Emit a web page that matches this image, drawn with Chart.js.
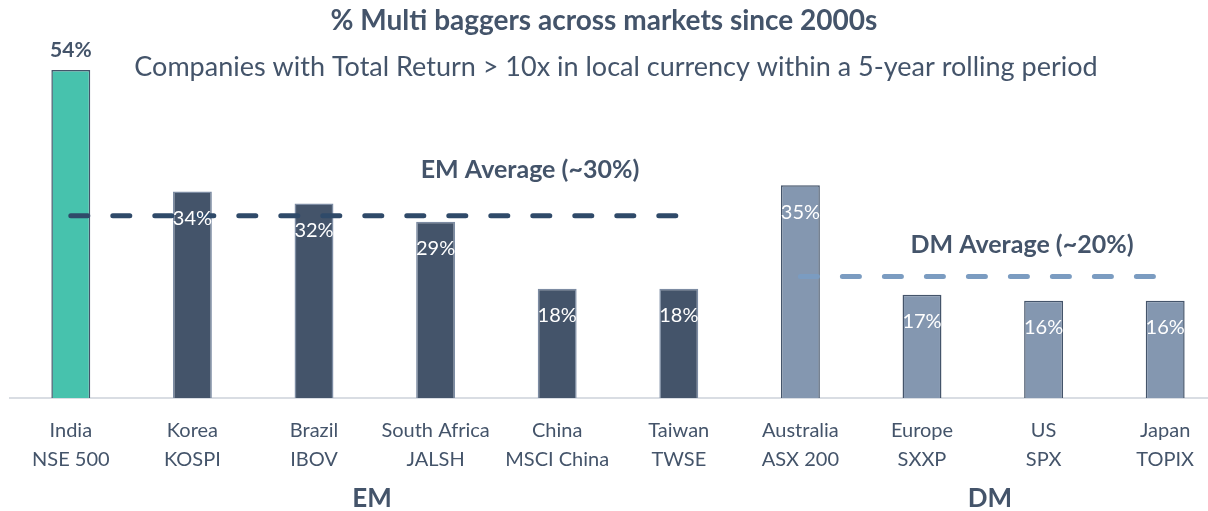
<!DOCTYPE html>
<html>
<head>
<meta charset="utf-8">
<script src="https://cdn.jsdelivr.net/npm/chart.js@4.4.1/dist/chart.umd.min.js"></script>
<style>
    html, body { margin: 0; padding: 0; background: #fff; overflow: hidden; }
    #wrap { width: 1226px; height: 511px; }
</style>
</head>
<body>
<div id="wrap"><canvas id="chart" width="1226" height="511"></canvas></div>
<script>
// data
const markets = [
    ['India', 'NSE 500'],
    ['Korea', 'KOSPI'],
    ['Brazil', 'IBOV'],
    ['South Africa', 'JALSH'],
    ['China', 'MSCI China'],
    ['Taiwan', 'TWSE'],
    ['Australia', 'ASX 200'],
    ['Europe', 'SXXP'],
    ['US', 'SPX'],
    ['Japan', 'TOPIX']
];
const multiBaggerPct = [54, 34, 32, 29, 18, 18, 35, 17, 16, 16];
const marketGroup = ['IN', 'EM', 'EM', 'EM', 'EM', 'EM', 'DM', 'DM', 'DM', 'DM'];
const emAverage = [30, 30, 30, 30, 30, 30, null, null, null, null];
const dmAverage = [null, null, null, null, null, null, 20, 20, 20, 20];

const TEXT = '#44546a';
const FONT = 'Lato';

const fill = { IN: '#47c2ad', EM: '#44546a', DM: '#8497b0' };
const edge = { IN: '#44546a', EM: '#7d8ca3', DM: '#44546a' };

// titles, group names, average labels and value labels
const textPlugin = {
    id: 'texts',
    afterDatasetsDraw (chart) {
        const ctx = chart.ctx;
        ctx.save();
        ctx.textAlign = 'center';
        ctx.textBaseline = 'middle';

        const bars = chart.getDatasetMeta(0).data;
        bars.forEach((bar, i) => {
            const txt = multiBaggerPct[i] + '%';
            if (marketGroup[i] === 'IN') {
                ctx.fillStyle = TEXT;
                ctx.font = 'bold 21px ' + FONT;
                ctx.fillText(txt, bar.x, bar.y - 20);
            } else {
                ctx.fillStyle = '#ffffff';
                ctx.font = '20px ' + FONT;
                ctx.fillText(txt, bar.x, bar.y + 27);
            }
        });

        ctx.fillStyle = TEXT;
        ctx.font = 'bold 28px ' + FONT;
        ctx.fillText('% Multi baggers across markets since 2000s', 604, 21);
        ctx.font = '27px ' + FONT;
        ctx.fillText('Companies with Total Return > 10x in local currency within a 5-year rolling period', 616, 67);

        ctx.font = 'bold 25px ' + FONT;
        ctx.fillText('EM Average (~30%)', 530, 170);
        ctx.fillText('DM Average (~20%)', 1022, 245);

        ctx.font = 'bold 26px ' + FONT;
        ctx.fillText('EM', 372, 499);
        ctx.fillText('DM', 990, 499);
        ctx.restore();
    }
};

function draw () {
    new Chart(document.getElementById('chart'), {
        type: 'bar',
        data: {
            labels: markets,
            datasets: [
                {
                    type: 'bar',
                    data: multiBaggerPct,
                    backgroundColor: marketGroup.map(g => fill[g]),
                    borderColor: marketGroup.map(g => edge[g]),
                    borderWidth: 1.5,
                    categoryPercentage: 1,
                    barPercentage: 0.32,
                    order: 2
                },
                {
                    type: 'line',
                    data: emAverage,
                    borderColor: '#2f4a69',
                    borderWidth: 5,
                    borderDash: [17, 25],
                    borderCapStyle: 'round',
                    pointRadius: 0,
                    fill: false,
                    spanGaps: false,
                    order: 1
                },
                {
                    type: 'line',
                    data: dmAverage,
                    borderColor: '#7b9cc1',
                    borderWidth: 5,
                    borderDash: [17, 25],
                    borderCapStyle: 'round',
                    pointRadius: 0,
                    fill: false,
                    spanGaps: false,
                    order: 1
                }
            ]
        },
        options: {
            responsive: false,
            animation: false,
            devicePixelRatio: 1,
            layout: { padding: { left: 10, right: 0, top: 0, bottom: 0 } },
            plugins: {
                legend: { display: false },
                tooltip: { enabled: false }
            },
            scales: {
                x: {
                    grid: { display: false },
                    border: { display: true, color: '#d9dde3', width: 2 },
                    ticks: {
                        color: TEXT,
                        font: { family: FONT, size: 20, lineHeight: 1.45 },
                        padding: 10,
                        maxRotation: 0,
                        autoSkip: false
                    },
                    afterFit: (scale) => { scale.height = 113; }
                },
                y: {
                    display: false,
                    min: 0,
                    max: 65.5
                }
            }
        },
        plugins: [textPlugin]
    });
}

Promise.all([
    document.fonts.load('20px Lato'),
    document.fonts.load('bold 20px Lato')
]).then(draw, draw);
</script>
</body>
</html>
